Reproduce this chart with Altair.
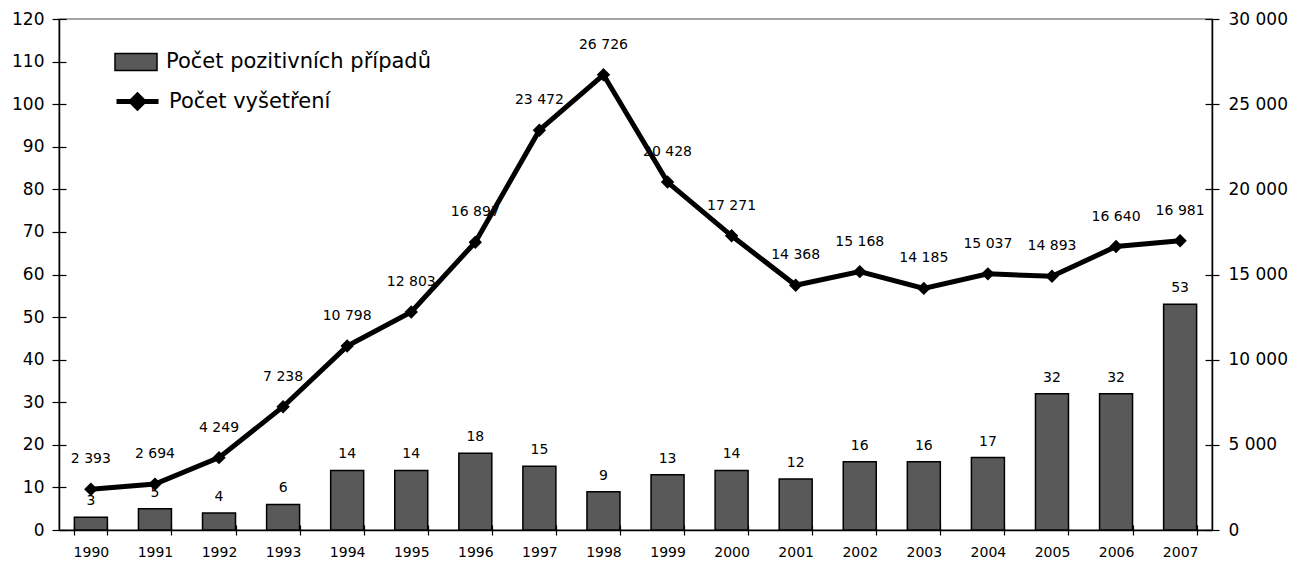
import altair as alt
import pandas as pd

years = [str(y) for y in range(1990, 2008)]
cases = [3, 5, 4, 6, 14, 14, 18, 15, 9, 13, 14, 12, 16, 16, 17, 32, 32, 53]
tests = [2393, 2694, 4249, 7238, 10798, 12803, 16897, 23472, 26726, 20428,
         17271, 14368, 15168, 14185, 15037, 14893, 16640, 16981]
s_cases = "Počet pozitivních případů"
s_tests = "Počet vyšetření"

df = pd.DataFrame({
    "year": years,
    "cases": cases,
    "tests": tests,
    "s1": s_cases,
    "s2": s_tests,
})
df["tests_lbl"] = [f"{v:,}".replace(",", " ") for v in tests]

FONT = "DejaVu Sans"
W, H = 1153, 511
BLK = dict(labelColor="black", domainColor="black", tickColor="black", grid=False)

xscale = alt.Scale(paddingInner=0.485, paddingOuter=0.24)


def xenc(axis):
    return alt.X("year:N", sort=years, title=None, scale=xscale, axis=axis)


x_axis_main = alt.Axis(orient="bottom", labelAngle=0, labelFontSize=14,
                       labelPadding=10, tickBand="extent", tickSize=5,
                       domainWidth=1.5, tickWidth=1.2, **BLK)
x_axis_in = alt.Axis(orient="top", offset=-H, labels=False, domain=False,
                     tickBand="extent", tickSize=5, tickWidth=1.2,
                     tickColor="black", grid=False)

ycases_scale = alt.Scale(domain=[0, 120], nice=False)
ytests_scale = alt.Scale(domain=[0, 30000], nice=False)
vals_l = list(range(0, 121, 10))
vals_r = list(range(0, 30001, 5000))

bars = alt.Chart(df).mark_bar(stroke="black", strokeWidth=1.5).encode(
    x=xenc(x_axis_main),
    y=alt.Y("cases:Q", scale=ycases_scale, title=None,
            axis=alt.Axis(orient="left", values=vals_l, labelFontSize=17,
                          labelPadding=8, tickSize=7, domainWidth=1.5,
                          tickWidth=1.2, **BLK)),
    fill=alt.Fill("s1:N", title=None,
                  scale=alt.Scale(range=["#595959"]),
                  legend=alt.Legend(orient="none", legendX=55, legendY=21,
                                    symbolType="M-1,-0.4H1V0.4H-1Z",
                                    symbolSize=1764, symbolStrokeColor="black",
                                    symbolStrokeWidth=1.5, labelFontSize=21,
                                    labelOffset=8, padding=0, labelLimit=0,
                                    labelColor="black")),
)
bar_text = alt.Chart(df).mark_text(fontSize=14, dy=-16, color="black",
                                   font=FONT).encode(
    x=xenc(None),
    y=alt.Y("cases:Q", scale=ycases_scale, title=None,
            axis=alt.Axis(orient="right", offset=-W, values=vals_l,
                          labels=False, domain=False, tickSize=7,
                          tickWidth=1.2, tickColor="black", grid=False)),
    text="cases:Q",
)

line = alt.Chart(df).mark_line(strokeWidth=5).encode(
    x=xenc(None),
    y=alt.Y("tests:Q", scale=ytests_scale, title=None,
            axis=alt.Axis(orient="right", values=vals_r,
                          labelExpr="replace(format(datum.value, ','), ',', ' ')",
                          labelFontSize=17, labelPadding=9, tickSize=7,
                          domainWidth=1.5, tickWidth=1.2, **BLK)),
    stroke=alt.Stroke("s2:N", title=None,
                      scale=alt.Scale(range=["black"]),
                      legend=alt.Legend(orient="none", legendX=55, legendY=59,
                                        symbolType="M-1,0H1M0,-0.3L0.3,0L0,0.3L-0.3,0Z",
                                        symbolSize=1764, symbolFillColor="black",
                                        symbolStrokeWidth=5, labelFontSize=21,
                                        labelOffset=8, padding=0, labelLimit=0,
                                        labelColor="black")),
)
points = alt.Chart(df).mark_point(shape="M-1,0L0,-1L1,0L0,1Z", size=180,
                                  filled=True, color="black", opacity=1).encode(
    x=xenc(x_axis_in),
    y=alt.Y("tests:Q", scale=ytests_scale, axis=None),
)
line_text = alt.Chart(df).mark_text(fontSize=14, dy=-30, color="black",
                                    font=FONT).encode(
    x=xenc(None),
    y=alt.Y("tests:Q", scale=ytests_scale, title=None,
            axis=alt.Axis(orient="left", offset=-W, values=vals_r,
                          labels=False, domain=False, tickSize=7,
                          tickWidth=1.2, tickColor="black", grid=False)),
    text="tests_lbl:N",
)

group_a = alt.layer(bars, bar_text).resolve_axis(x="independent", y="independent")
group_b = alt.layer(line, points, line_text).resolve_axis(x="independent", y="independent")

chart = alt.layer(group_a, group_b).resolve_scale(y="independent").resolve_axis(
    x="independent", y="independent"
).properties(
    width=W, height=H,
    padding={"left": 51, "top": 11, "right": 77, "bottom": 31},
    autosize=alt.AutoSizeParams(type="none"),
).configure(font=FONT).configure_view(stroke="#888888", strokeWidth=1.5)

chart.save("out.html", embed_options={"renderer": "svg", "actions": False})
